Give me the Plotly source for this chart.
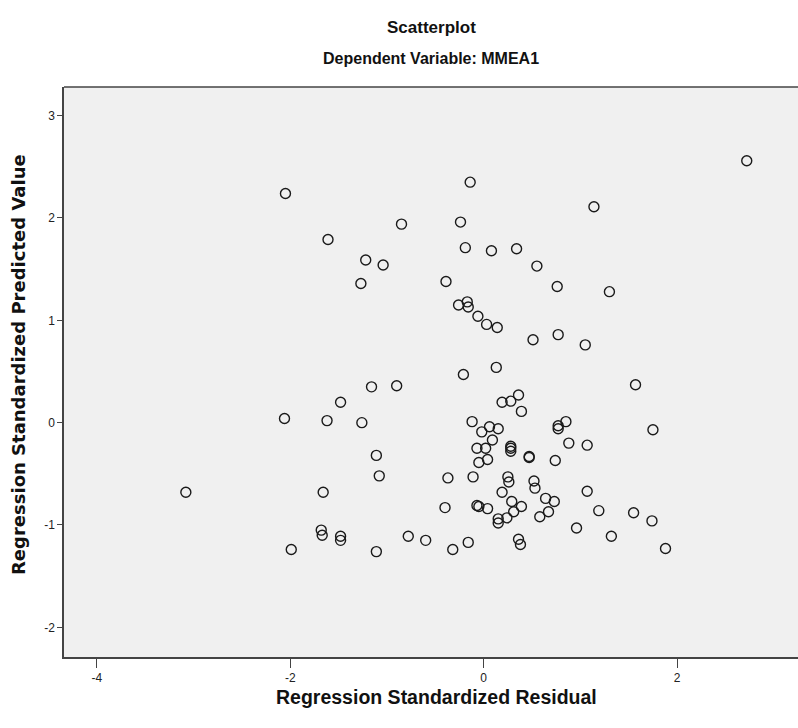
import plotly.graph_objects as go

# Regression Standardized Residual (x) and Predicted Value (y)
resid = [2.72, -2.05, -0.14, 1.14, -0.85, -0.24, -1.61, -0.19, 0.08, 0.34,
         -1.22, -1.04, -1.27, -0.39, 0.55, 0.76, 1.30, -0.26, -0.17, -0.16,
         -0.06, 0.03, 0.14, 0.51, 0.77, 1.05, 0.13, -0.21, 1.57, -0.90,
         -1.16, -1.48, -2.06, -1.62, -1.26, -1.11, -1.08, -1.66, -1.68, -1.67,
         -1.48, -1.48, -1.99, -1.11, -3.08, 0.36, 0.19, 0.28, 0.39, -0.12,
         0.85, 0.77, 0.77, 0.06, 0.15, -0.02, 0.09, 0.88, 1.07, 0.28,
         0.28, 0.28, -0.07, 0.02, 0.47, 0.47, 0.04, -0.05, 0.74, -0.37,
         -0.11, 0.25, 0.26, 0.52, 0.53, 1.07, 0.19, 0.64, 0.73, -0.40,
         -0.07, -0.05, 0.04, 0.29, 0.39, 0.31, 0.58, 0.67, 1.19, 0.15,
         0.15, 0.24, 0.96, -0.78, -0.60, -0.16, -0.32, 0.36, 0.38, 1.75,
         1.55, 1.74, 1.32, 1.88]
pred = [2.56, 2.24, 2.35, 2.11, 1.94, 1.96, 1.79, 1.71, 1.68, 1.70,
        1.59, 1.54, 1.36, 1.38, 1.53, 1.33, 1.28, 1.15, 1.18, 1.13,
        1.04, 0.96, 0.93, 0.81, 0.86, 0.76, 0.54, 0.47, 0.37, 0.36,
        0.35, 0.20, 0.04, 0.02, 0.00, -0.32, -0.52, -0.68, -1.05, -1.10,
        -1.11, -1.15, -1.24, -1.26, -0.68, 0.27, 0.20, 0.21, 0.11, 0.01,
        0.01, -0.03, -0.06, -0.04, -0.06, -0.09, -0.17, -0.20, -0.22, -0.23,
        -0.25, -0.28, -0.25, -0.25, -0.33, -0.34, -0.36, -0.39, -0.37, -0.54,
        -0.53, -0.53, -0.58, -0.57, -0.64, -0.67, -0.68, -0.74, -0.77, -0.83,
        -0.81, -0.82, -0.84, -0.77, -0.82, -0.87, -0.92, -0.87, -0.86, -0.94,
        -0.98, -0.93, -1.03, -1.11, -1.15, -1.17, -1.24, -1.14, -1.19, -0.07,
        -0.88, -0.96, -1.11, -1.23]

x_ticks = [-4, -2, 0, 2]
x_tick_labels = ["-4", "-2", "0", "2"]
y_ticks = [-2, -1, 0, 1, 2, 3]
y_tick_labels = ["-2", "-1", "0", "1", "2", "3"]

fig = go.Figure(go.Scatter(
    x=resid, y=pred, mode="markers",
    marker=dict(symbol="circle-open", size=10, color="#1a1a1a",
                line=dict(width=1.4, color="#1a1a1a")),
    hoverinfo="x+y"))

sans = "Liberation Sans, Arial, sans-serif"
axis_common = dict(showgrid=False, zeroline=False, showline=True,
                   linecolor="#444444", linewidth=1.5, ticks="outside",
                   tickcolor="#444444", tickwidth=1.2,
                   tickfont=dict(family=sans, size=12, color="#222222"))

fig.update_layout(
    width=798, height=728,
    margin=dict(l=64, r=0, t=87, b=71),
    paper_bgcolor="white", plot_bgcolor="#F0F0F0",
    showlegend=False,
    xaxis=dict(range=[-4.34, 3.25], tickvals=x_ticks, ticktext=x_tick_labels,
               ticklen=9, mirror=False, **axis_common),
    yaxis=dict(range=[-2.29, 3.28], tickvals=y_ticks, ticktext=y_tick_labels,
               ticklen=5, mirror=False, **axis_common),
    shapes=[dict(type="line", xref="paper", yref="paper", x0=0, x1=1, y0=1, y1=1,
                 line=dict(color="#444444", width=1.5))],
    annotations=[
        dict(text="<b>Scatterplot</b>", xref="paper", yref="paper",
             x=0.5, y=1, yanchor="middle", yshift=60, showarrow=False,
             font=dict(family=sans, size=17, color="#111111")),
        dict(text="<b>Dependent Variable: MMEA1</b>", xref="paper", yref="paper",
             x=0.5, y=1, yanchor="middle", yshift=29, showarrow=False,
             font=dict(family=sans, size=16, color="#111111")),
        dict(text="<b>Regression Standardized Residual</b>", xref="paper", yref="paper",
             x=0.508, y=0, yanchor="middle", yshift=-40, showarrow=False,
             font=dict(family=sans, size=19.5, color="#111111")),
        dict(text="<b>Regression Standardized Predicted Value</b>", xref="paper",
             yref="paper", x=0, xanchor="center", xshift=-46, y=0.5,
             yanchor="middle", yshift=7, textangle=-90, showarrow=False,
             font=dict(family="DejaVu Sans, Verdana, sans-serif", size=18,
                       color="#111111")),
    ],
)

fig.write_html("out.html")
